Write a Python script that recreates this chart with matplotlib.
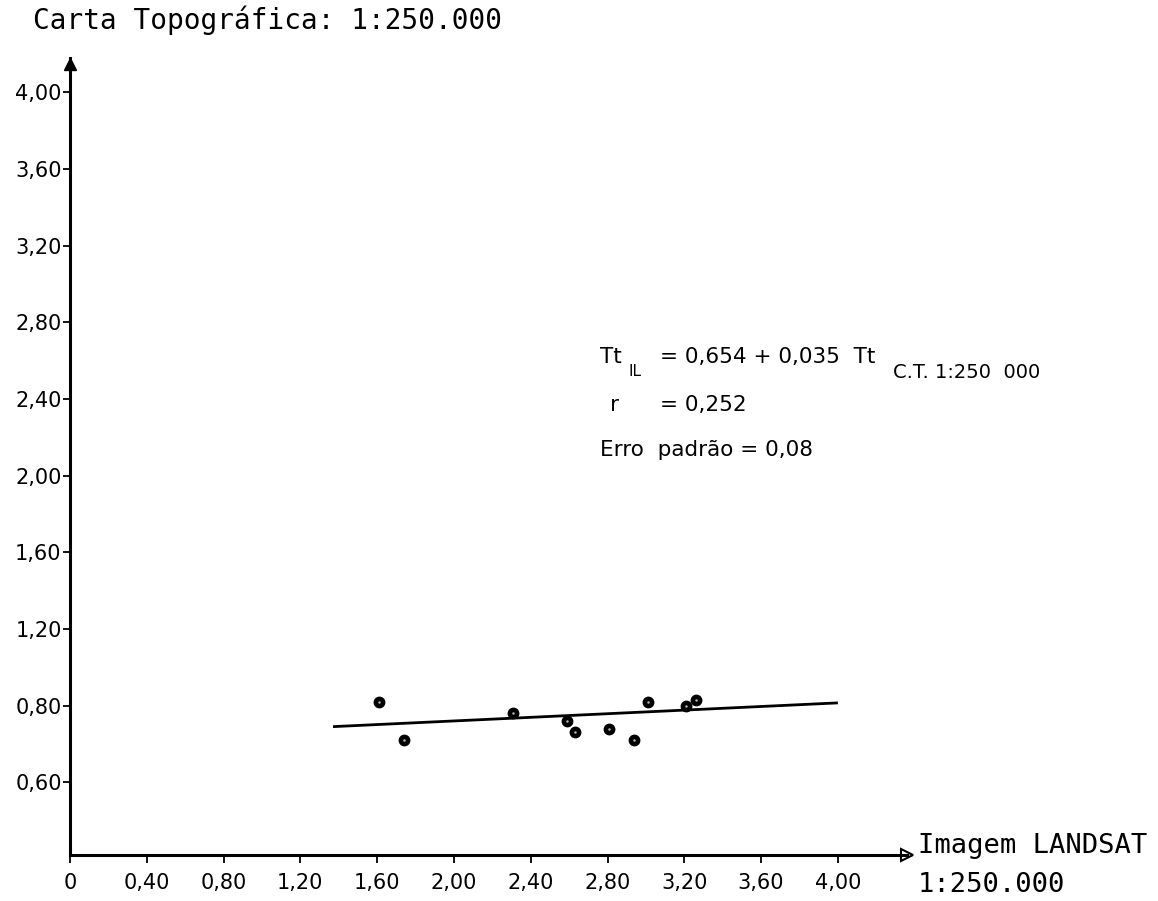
import numpy as np
import matplotlib
matplotlib.use('Agg')
import matplotlib.pyplot as plt

# values
x_pts = [1.61, 1.74, 2.31, 2.59, 2.63, 2.81, 2.94, 3.01, 3.21, 3.26]
y_pts = [0.82, 0.71, 0.78, 0.76, 0.73, 0.74, 0.71, 0.82, 0.80, 0.83]
line_x = [1.37, 4.00]
line_y = [0.745, 0.814]

x_ticks = [0, 0.4, 0.8, 1.2, 1.6, 2.0, 2.4, 2.8, 3.2, 3.6, 4.0]
x_labels = ['0', '0,40', '0,80', '1,20', '1,60', '2,00', '2,40', '2,80', '3,20', '3,60', '4,00']
y_ticks = [0.6, 0.8, 1.2, 1.6, 2.0, 2.4, 2.8, 3.2, 3.6, 4.0]
y_labels = ['0,60', '0,80', '1,20', '1,60', '2,00', '2,40', '2,80', '3,20', '3,60', '4,00']

# the y axis is broken below 0,80 (one tick step = 0,20 there)
def fwd(v):
    v = np.asarray(v, dtype=float)
    return np.where(v >= 0.8, v, 0.8 - 2 * (0.8 - v))

def inv(p):
    p = np.asarray(p, dtype=float)
    return np.where(p >= 0.8, p, 0.8 - (0.8 - p) / 2)

W, H = 1158, 901
fig = plt.figure(figsize=(W / 100, H / 100), dpi=100)
ax = fig.add_axes([70 / W, 46 / H, 837 / W, 797 / H])
ax.set_yscale('function', functions=(fwd, inv))

ax.plot(line_x, line_y, color='black', lw=2.0, solid_capstyle='butt')
ax.plot(x_pts, y_pts, 'o', color='black', ms=7.5, mfc='black', mec='black', zorder=5)
ax.plot(x_pts, y_pts, '.', color='#bbbbbb', ms=1.5, zorder=6)

ax.set_xlim(0, 4.36)
ax.set_ylim(0.41, 4.18)
ax.set_xticks(x_ticks)
ax.set_xticklabels(x_labels)
ax.set_yticks(y_ticks)
ax.set_yticklabels(y_labels)
ax.minorticks_off()

for s in ['top', 'right']:
    ax.spines[s].set_visible(False)
for s in ['left', 'bottom']:
    ax.spines[s].set_linewidth(2.2)
ax.tick_params(axis='x', length=6, width=1.3, pad=7, labelsize=15)
ax.tick_params(axis='y', length=5, width=1.3, pad=1, labelsize=15)

# arrow heads at axis ends
ax.plot(0, 0.992, '^', color='black', ms=8, transform=ax.transAxes, clip_on=False)
ax.plot(1, 0, '>', mfc='white', mec='black', mew=1.5, ms=9, transform=ax.transAxes, clip_on=False)

mono = ['DejaVu Sans Mono']
fig.text(33 / W, 1 - 20 / H, 'Carta Topográfica: 1:250.000', family=mono, fontsize=20,
         ha='left', va='center')
fig.text(918 / W, 1 - 846 / H, 'Imagem LANDSAT', family=mono, fontsize=19.5, ha='left', va='center')
fig.text(918 / W, 1 - 885 / H, '1:250.000', family=mono, fontsize=19.5, ha='left', va='center')

# regression annotation
fs = 15.5
fig.text(600 / W, 1 - 357 / H, 'Tt', fontsize=fs, ha='left', va='center')
fig.text(628 / W, 1 - 372 / H, 'IL', fontsize=11, ha='left', va='center')
fig.text(660 / W, 1 - 357 / H, '= 0,654 + 0,035  Tt', fontsize=fs, ha='left', va='center')
fig.text(893 / W, 1 - 372 / H, 'C.T. 1:250  000', fontsize=14, ha='left', va='center')
fig.text(610 / W, 1 - 405 / H, 'r', fontsize=fs, ha='left', va='center')
fig.text(660 / W, 1 - 405 / H, '= 0,252', fontsize=fs, ha='left', va='center')
fig.text(600 / W, 1 - 450 / H, 'Erro  padrão = 0,08', fontsize=fs, ha='left', va='center')

fig.savefig('out.png', dpi=100)
